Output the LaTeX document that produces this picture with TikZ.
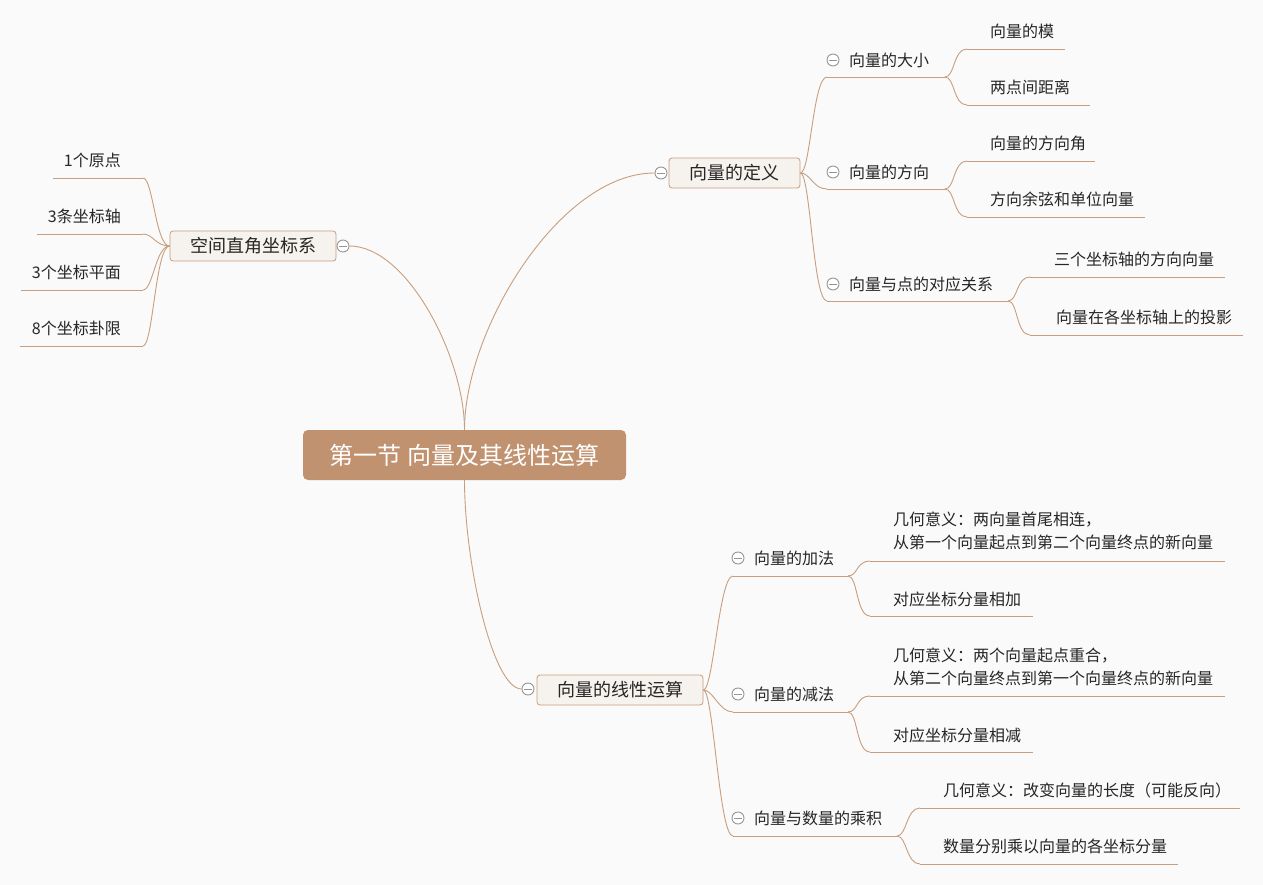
\documentclass[tikz,border=0pt]{standalone}
\usepackage{fontspec}
\setmainfont{Noto Sans CJK SC}
\usepackage{xcolor}
\usepackage{tikz}
\usetikzlibrary{positioning,calc}

\definecolor{linebrown}{RGB}{200,158,126}
\definecolor{rootfill}{RGB}{193,146,111}
\definecolor{subfill}{RGB}{246,242,237}
\definecolor{bgcol}{RGB}{250,250,250}
\definecolor{markgray}{RGB}{150,150,150}
\definecolor{txtgray}{RGB}{38,38,38}

\tikzset{
  rootbox/.style={fill=rootfill, rounded corners=5pt, minimum width=323pt, minimum height=50pt,
    inner sep=0pt, text=white, font=\fontsize{24}{27}\selectfont},
  subbox/.style={draw=linebrown, fill=subfill, rounded corners=3pt, minimum height=30pt,
    inner sep=0pt, line width=0.8pt, text=txtgray, font=\fontsize{18}{21}\selectfont},
  topic/.style={inner sep=0pt, align=left, text=txtgray, font=\fontsize{16}{23}\selectfont},
  link/.style={draw=linebrown, line width=0.9pt},
  fork/.style={to path={.. controls +(10,0) and +(-14,0) .. (\tikztotarget)}},
  fold/.style={circle, draw=markgray, fill=white, minimum size=12pt, inner sep=0pt, line width=0.9pt,
    path picture={\draw[markgray, line width=0.9pt]
      ([xshift=-3.6pt]path picture bounding box.center) -- ([xshift=3.6pt]path picture bounding box.center);}},
}

\begin{document}
\begin{tikzpicture}[x=1pt, y=-1pt]
    \fill[bgcol] (0,0) rectangle (1263,885);
    \useasboundingbox (0,0) rectangle (1263,885);

    % centre and main branches
    \node[rootbox] (root) at (464.5,455) {第一节 向量及其线性运算};
    \node[subbox, minimum width=131pt] (def) at (734.5,173) {向量的定义};
    \node[subbox, minimum width=166pt] (sys) at (253,246) {空间直角坐标系};
    \node[subbox, minimum width=166pt] (lin) at (620,690) {向量的线性运算};
    \node[fold] (def-f) at (661,173) {};
    \node[fold] (sys-f) at (343,246) {};
    \node[fold] (lin-f) at (528,689) {};

    \draw[link] (root.north) .. controls +(0,-100) and +(-95,0) .. (def-f.west);
    \draw[link] (root.north) .. controls +(0,-72) and +(58,0) .. (sys-f.east);
    \draw[link] (root.south) .. controls +(0,82) and +(-29,0) .. (lin-f.west);

    % second level
    \foreach \n/\p/\x/\y/\fx/\a/\b/\u/\t in {
        size/def.east/849/60/833/827/945/77/向量的大小,
        dir/def.east/849/172/833/827/945/189/向量的方向,
        corr/def.east/849/284/833/827/1008/301/向量与点的对应关系,
        add/lin.east/754/558/738/733/848/576/向量的加法,
        sub/lin.east/754/694/738/733/848/712/向量的减法,
        scal/lin.east/754/818/738/733/897/836/向量与数量的乘积} {
        \coordinate (\n-l) at (\a,\u);
        \coordinate (\n-r) at (\b,\u);
        \node[topic, anchor=west] (\n) at (\x,\y) {\t};
        \node[fold] (\n-f) at (\fx,\y) {};
        \draw[link] (\n-l) -- (\n-r);
        \draw[link] (\p) to[fork] (\n-l);
    }

    % leaves
    \foreach \n/\p/\x/\y/\a/\b/\u/\t in {
        mo/size/990/31/967/1065/49/向量的模,
        dist/size/990/87/967/1090/105/两点间距离,
        angle/dir/990/143/967/1095/161/向量的方向角,
        cosine/dir/990/199/967/1145/217/方向余弦和单位向量,
        axes/corr/1054/259/1030/1225/277/三个坐标轴的方向向量,
        proj/corr/1056/317/1030/1243/335/向量在各坐标轴上的投影,
        geoadd/add/893/530.5/870/1225/561/{几何意义：两向量首尾相连，\\从第一个向量起点到第二个向量终点的新向量},
        compadd/add/893/599/870/1033/616/对应坐标分量相加,
        geosub/sub/893/666.5/870/1225/696/{几何意义：两个向量起点重合，\\从第二个向量终点到第一个向量终点的新向量},
        compsub/sub/893/735/870/1033/752/对应坐标分量相减,
        geoscal/scal/943/790/920/1240/808/几何意义：改变向量的长度（可能反向）,
        compscal/scal/943/846/920/1178/864/数量分别乘以向量的各坐标分量} {
        \coordinate (\n-l) at (\a,\u);
        \coordinate (\n-r) at (\b,\u);
        \node[topic, anchor=west] (\n) at (\x,\y) {\t};
        \draw[link] (\n-l) -- (\n-r);
        \draw[link] (\p-r) to[fork] (\n-l);
    }

    % left side leaves
    \foreach \n/\y/\a/\u/\t in {
        origin/160/53/178/1个原点,
        axis/216/37/234/3条坐标轴,
        plane/272/21/290/3个坐标平面,
        octant/328/20/346/8个坐标卦限} {
        \coordinate (\n-l) at (\a,\u);
        \coordinate (\n-r) at (143,\u);
        \node[topic, anchor=east] (\n) at (121,\y) {\t};
        \draw[link] (\n-l) -- (\n-r);
        \draw[link] (\n-r) to[fork] (sys.west);
    }
\end{tikzpicture}
\end{document}
